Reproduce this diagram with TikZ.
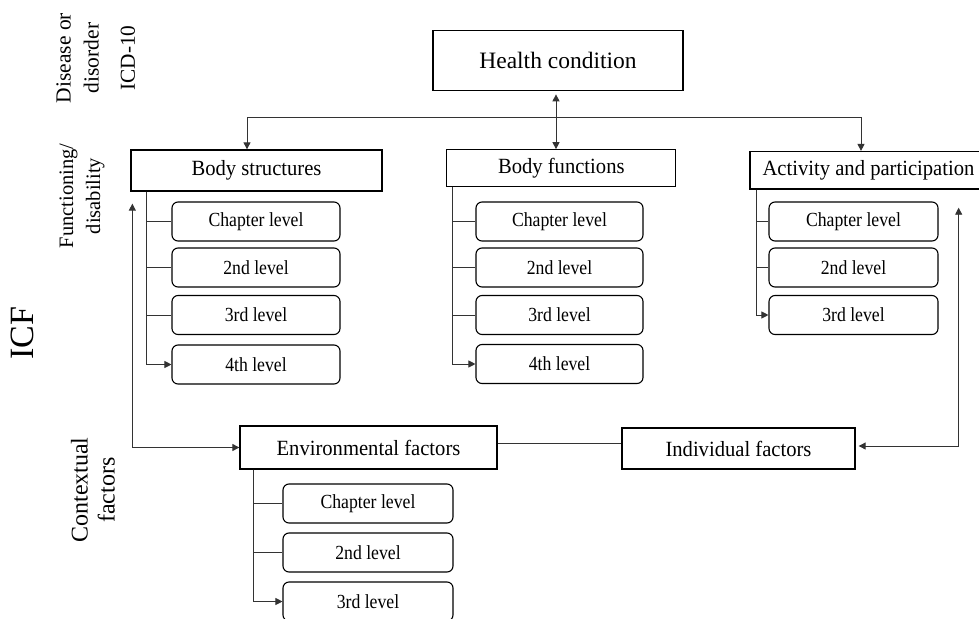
\documentclass[tikz,border=0pt]{standalone}
\usepackage{fontspec}
\setmainfont{Liberation Serif}
\newfontfamily\hdfont{Liberation Serif}[FakeStretch=0.95]
\newfontfamily\lvlfont{Liberation Serif}[FakeStretch=0.885]
\usetikzlibrary{arrows.meta,calc}
\newcommand\fsz[2]{\fontsize{#1}{#2}\selectfont}
\begin{document}
\begin{tikzpicture}[x=1pt,y=-1pt,
  box/.style={draw=black, line width=1.3pt, inner sep=0pt, fill=white, font=\hdfont\fsz{21.7}{25}},
  lvl/.style={draw=black, line width=1.1pt, rounded corners=6pt, fill=white,
    minimum width=168pt, minimum height=39pt, inner sep=0pt, font=\lvlfont\fsz{20}{24}},
  link/.style={draw=black!80, line width=0.9pt},
  tip/.style={link, -{Triangle[length=7pt,width=7pt]}},
  both/.style={link, {Triangle[length=7pt,width=7pt]}-{Triangle[length=7pt,width=7pt]}},
  side/.style={rotate=90, align=center, inner sep=0pt}
]
\path[use as bounding box, fill=white] (0,0) rectangle (979,618);

% side labels
\node[side, font=\fsz{21.5}{28}] (lab1) at (77.5,58) {Disease or\\disorder};
\node[side, font=\fsz{21.3}{26}] (lab2) at (128,58) {ICD-10};
\node[side, font=\fsz{20.5}{27}] (lab3) at (82,196) {Functioning/\\disability};
\node[side, font=\fsz{34}{40}] (lab4) at (22,333) {ICF};
\node[side, font=\fsz{24}{27}] (lab5) at (93,490) {Contextual\\factors};

% main boxes
\node[box, minimum width=250pt, minimum height=60pt, font=\fsz{23.5}{27}] (hc) at (558,60.7) {Health condition};
\node[box, minimum width=251pt, minimum height=41pt] (bs) at (256.5,170.5) {Body structures};
\node[box, minimum width=229pt, minimum height=37pt] (bf) at (561.3,168.3) {Body functions};
\node[box, minimum width=237pt, minimum height=37.5pt] (ap) at (868.5,170.3) {Activity and participation};
\node[box, minimum width=257pt, minimum height=43pt] (ef) at (368.5,447.5) {Environmental factors};
\node[box, minimum width=233pt, minimum height=41pt] (if) at (738.5,448.5) {Individual factors};

% level boxes
\node[lvl] (bs1) at (256,221.5) {Chapter level};
\node[lvl] (bs2) at (256,267.5) {2nd level};
\node[lvl] (bs3) at (256,315) {3rd level};
\node[lvl] (bs4) at (256,364.5) {4th level};

\node[lvl, minimum width=167pt] (bf1) at (559.5,221.5) {Chapter level};
\node[lvl, minimum width=167pt] (bf2) at (559.5,267.5) {2nd level};
\node[lvl, minimum width=167pt] (bf3) at (559.5,315) {3rd level};
\node[lvl, minimum width=167pt] (bf4) at (559.5,364) {4th level};

\node[lvl, minimum width=169pt] (ap1) at (853.5,221.5) {Chapter level};
\node[lvl, minimum width=169pt] (ap2) at (853.5,267.5) {2nd level};
\node[lvl, minimum width=169pt] (ap3) at (853.5,315) {3rd level};

\node[lvl, minimum width=170pt] (ef1) at (368,503.5) {Chapter level};
\node[lvl, minimum width=170pt] (ef2) at (368,552.5) {2nd level};
\node[lvl, minimum width=170pt] (ef3) at (368,601.5) {3rd level};

% health condition links
\coordinate (hcb) at ([xshift=-2pt,yshift=-3pt]hc.south);
\draw[both] (hcb) -- (hcb |- bf.north);
\coordinate (busL) at (247,117);
\coordinate (busR) at (861,117);
\draw[link] (busL) -- (busR);
\draw[tip] (busL) -- (busL |- bs.north);
\draw[tip] (busR) -- (busR |- ap.north);

% level trunks
\coordinate (bsT) at ([xshift=16pt]bs.south west);
\draw[link] (bsT) |- (bs1.west);
\draw[link] (bsT) |- (bs2.west);
\draw[link] (bsT) |- (bs3.west);
\draw[tip]  (bsT) |- (bs4.west);

\coordinate (bfT) at ([xshift=6pt]bf.south west);
\draw[link] (bfT) |- (bf1.west);
\draw[link] (bfT) |- (bf2.west);
\draw[link] (bfT) |- (bf3.west);
\draw[tip]  (bfT) |- (bf4.west);

\coordinate (apT) at ([xshift=7pt]ap.south west);
\draw[link] (apT) |- (ap1.west);
\draw[link] (apT) |- (ap2.west);
\draw[tip]  (apT) |- (ap3.west);

\coordinate (efT) at ([xshift=14pt]ef.south west);
\draw[link] (efT) |- (ef1.west);
\draw[link] (efT) |- (ef2.west);
\draw[tip]  (efT) |- (ef3.west);

% contextual links
\draw[both] ([xshift=2pt,yshift=-12pt]bs.south west) |- (ef.west);
\draw[link] ([yshift=4pt]ef.east) -- ([yshift=5pt]if.west);
\coordinate (apR) at ([xshift=-29pt,yshift=-18pt]ap.south east);
\coordinate (ifR) at ([xshift=3pt,yshift=2.5pt]if.east);
\draw[both] (apR) |- (ifR);
\end{tikzpicture}
\end{document}
